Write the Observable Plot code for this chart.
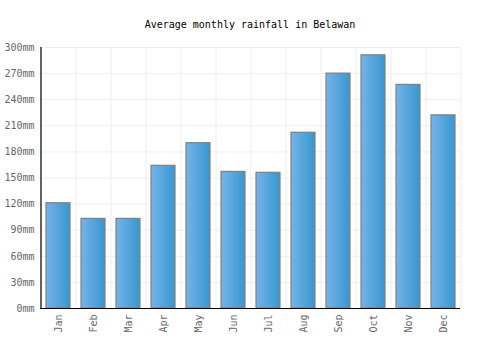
<!DOCTYPE html>
<html>
<head>
<meta charset="utf-8">
<script src="https://cdn.jsdelivr.net/npm/d3@7"></script>
<script src="https://cdn.jsdelivr.net/npm/@observablehq/plot@0.6"></script>
<style>
  body { margin: 0; background: #fff; }
  #title { width: 500px; height: 17px; padding-top: 18px; font: 10px "DejaVu Sans Mono", monospace; line-height: 13px; text-align: center; color: #000; }
</style>
</head>
<body>
<div id="title">Average monthly rainfall in Belawan</div>
<div id="chart"></div>
<script>
const months = ["Jan","Feb","Mar","Apr","May","Jun","Jul","Aug","Sep","Oct","Nov","Dec"];
const rainfall = [121, 103, 103, 164, 190, 157, 156, 202, 270, 291, 257, 222];
const yTicks = [0, 30, 60, 90, 120, 150, 180, 210, 240, 270, 300];

const data = months.map((m, i) => ({month: m, value: rainfall[i]}));

const plot = Plot.plot({
  width: 500,
  height: 315,
  marginTop: 12,
  marginBottom: 42,
  marginLeft: 40,
  marginRight: 40,
  style: {fontFamily: "DejaVu Sans Mono, monospace", fontSize: "10px", color: "#666", background: "#fff"},
  x: {domain: months, paddingInner: 0.32, paddingOuter: 0.16, label: null},
  y: {domain: [0, 300], label: null},
  marks: [
    Plot.ruleY(yTicks, {stroke: "#eeeeee", strokeWidth: 1}),
    Plot.ruleX(months, {x: d => d, dx: -17.5, stroke: "#eeeeee", strokeWidth: 1}),
    Plot.ruleX([months[months.length - 1]], {x: d => d, dx: 17.5, stroke: "#eeeeee", strokeWidth: 1}),
    Plot.barY(data, {x: "month", y: "value", fill: "url(#barGrad)", stroke: "#808080", strokeWidth: 1.2}),
    Plot.ruleX([months[0]], {x: d => d, dx: -17.5, y1: 0, y2: 300, stroke: "#000", strokeWidth: 1.2}),
    Plot.ruleY([0], {stroke: "#000", strokeWidth: 1.2}),
    Plot.axisY({ticks: yTicks, tickFormat: d => d + "mm", tickSize: 0, tickPadding: 6, label: null}),
    Plot.axisX({tickRotate: -90, tickSize: 0, tickPadding: 6, label: null})
  ]
});

const svg = d3.select(plot.tagName.toLowerCase() === "svg" ? plot : plot.querySelector("svg"));
const grad = svg.insert("defs", ":first-child").append("linearGradient")
  .attr("id", "barGrad").attr("x1", "0%").attr("x2", "100%").attr("y1", "0%").attr("y2", "0%");
grad.append("stop").attr("offset", "0%").attr("stop-color", "#74b4ea");
grad.append("stop").attr("offset", "100%").attr("stop-color", "#3896cf");

document.getElementById("chart").appendChild(plot);
</script>
</body>
</html>
